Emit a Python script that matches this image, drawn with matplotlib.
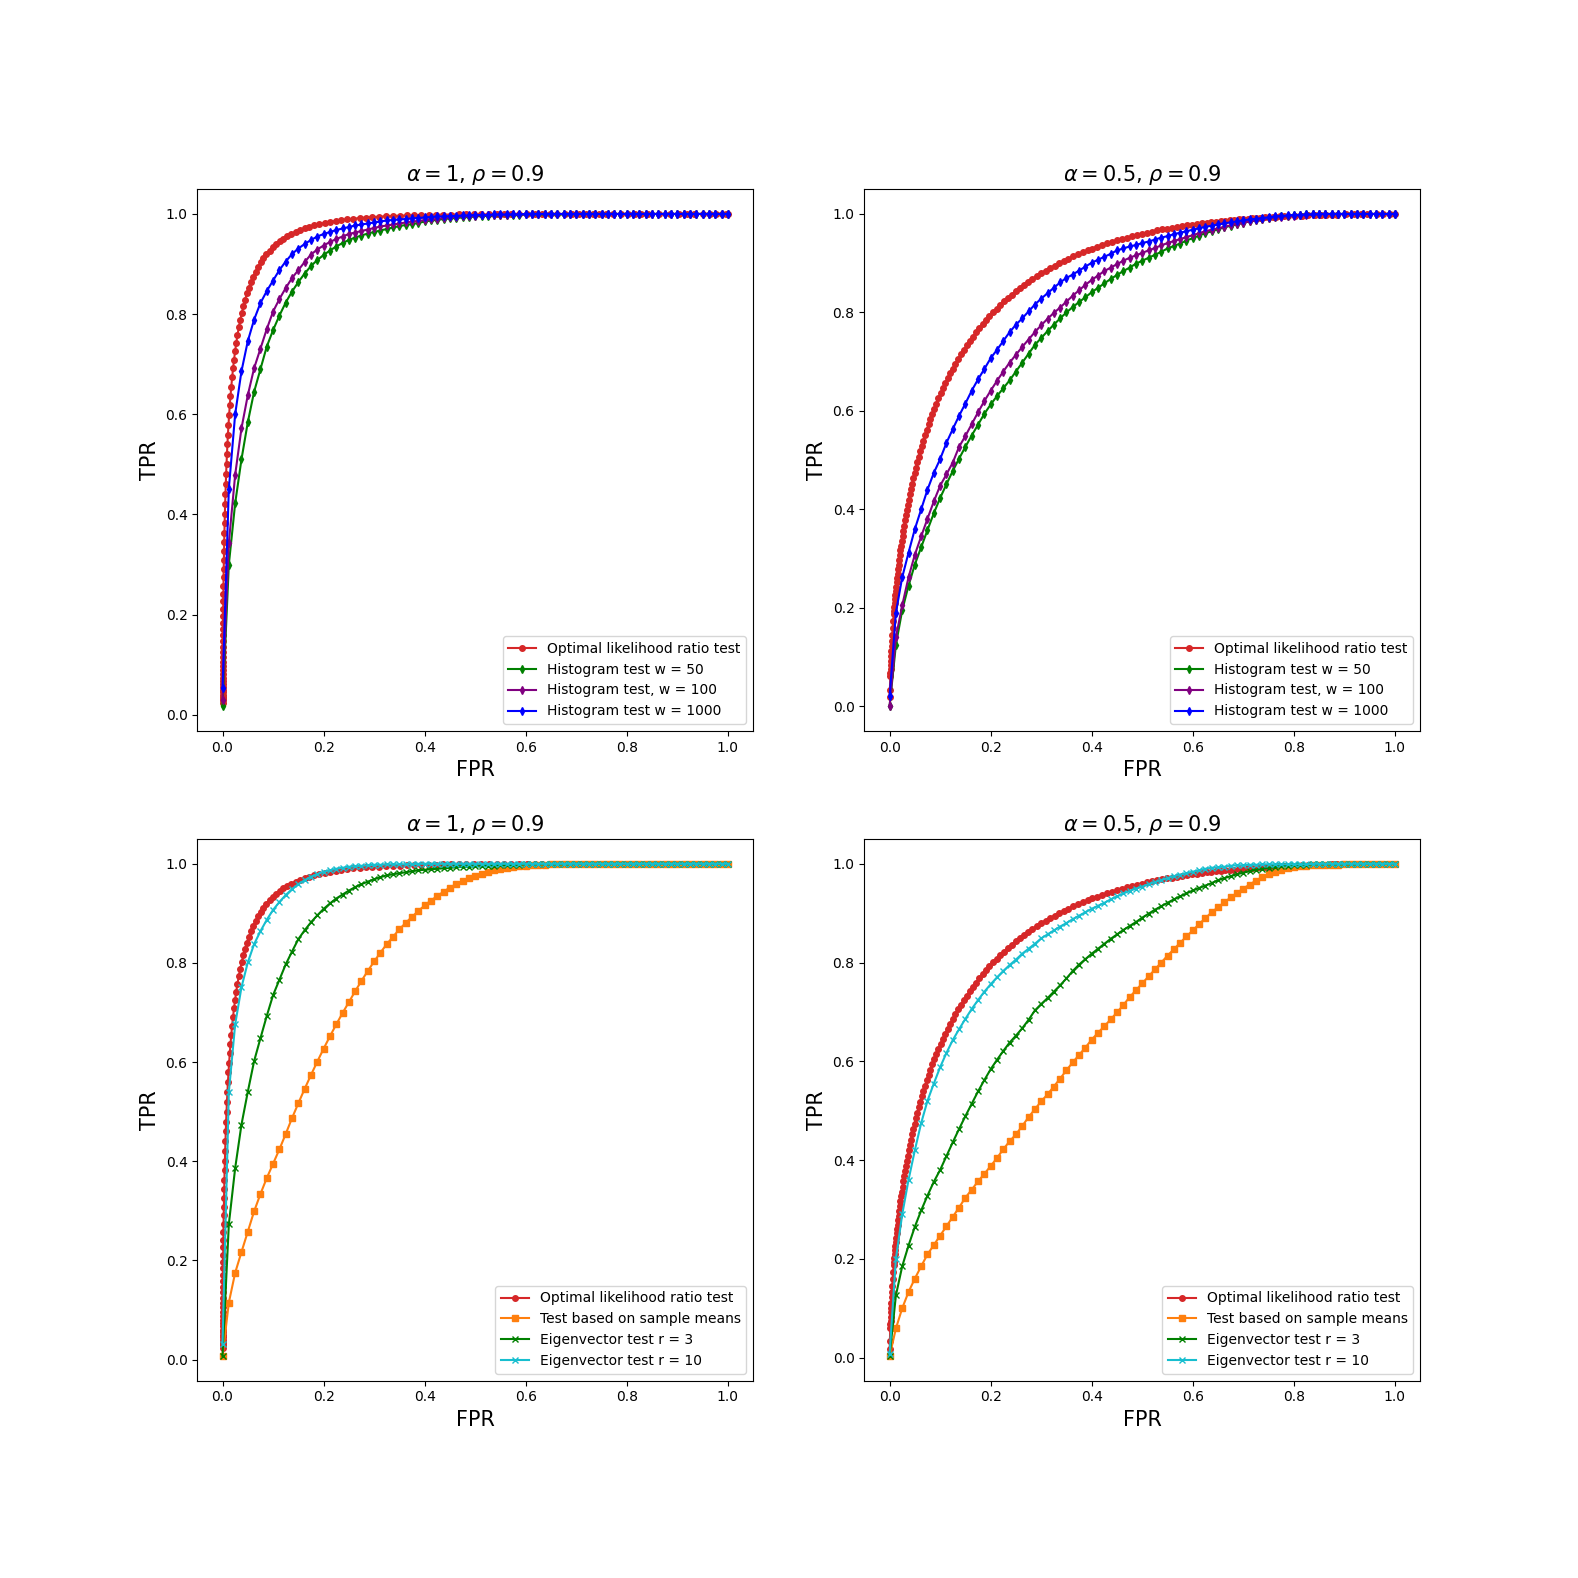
import matplotlib
matplotlib.use("Agg")
import matplotlib.pyplot as plt

# ---------------- data ----------------
FPR_GRID = [
    0.0, 0.0125, 0.025, 0.0375, 0.05, 0.0625, 0.075, 0.0875, 0.1, 0.1125,
    0.125, 0.1375, 0.15, 0.1625, 0.175, 0.1875, 0.2, 0.2125, 0.225, 0.2375,
    0.25, 0.2625, 0.275, 0.2875, 0.3, 0.3125, 0.325, 0.3375, 0.35, 0.3625,
    0.375, 0.3875, 0.4, 0.4125, 0.425, 0.4375, 0.45, 0.4625, 0.475, 0.4875,
    0.5, 0.5125, 0.525, 0.5375, 0.55, 0.5625, 0.575, 0.5875, 0.6, 0.6125,
    0.625, 0.6375, 0.65, 0.6625, 0.675, 0.6875, 0.7, 0.7125, 0.725, 0.7375,
    0.75, 0.7625, 0.775, 0.7875, 0.8, 0.8125, 0.825, 0.8375, 0.85, 0.8625,
    0.875, 0.8875, 0.9, 0.9125, 0.925, 0.9375, 0.95, 0.9625, 0.975, 0.9875,
    1.0]

# Optimal likelihood ratio test, alpha = 1
OPT_A1_FPR = [
    0.00005, 0.000061, 0.000071, 0.000083, 0.000096, 0.000111, 0.000129, 0.000149, 0.000172, 0.000199,
    0.000229, 0.000264, 0.000303, 0.000348, 0.000400, 0.000457, 0.000523, 0.000596, 0.000680, 0.000775,
    0.000880, 0.00100, 0.00113, 0.00128, 0.00146, 0.00164, 0.00185, 0.00208, 0.00235, 0.00264,
    0.00296, 0.00332, 0.00372, 0.00416, 0.00465, 0.00518, 0.00577, 0.00641, 0.00712, 0.00790,
    0.00875, 0.00970, 0.01069, 0.01182, 0.01304, 0.01434, 0.01578, 0.01731, 0.01900, 0.02083,
    0.02275, 0.02488, 0.02712, 0.02958, 0.03223, 0.03500, 0.03806, 0.04120, 0.04466, 0.04836,
    0.05221, 0.05639, 0.06069, 0.06540, 0.07040, 0.07555, 0.08107, 0.08680, 0.09298, 0.09923,
    0.10600, 0.11313, 0.12047, 0.12825, 0.13609, 0.14462, 0.15345, 0.16234, 0.17184, 0.18134,
    0.19168, 0.20221, 0.21275, 0.22394, 0.23522, 0.24704, 0.25912, 0.27128, 0.28404, 0.29667,
    0.30993, 0.32345, 0.33689, 0.35088, 0.36467, 0.37902, 0.39359, 0.40788, 0.42271, 0.43724,
    0.45224, 0.46732, 0.48205, 0.49721, 0.51197, 0.52711, 0.54221, 0.55686, 0.57182, 0.58628,
    0.6026, 0.6179, 0.6331, 0.6480, 0.6628, 0.6772, 0.6915, 0.7054, 0.7190, 0.7324,
    0.7454, 0.7580, 0.7734, 0.7881, 0.8023, 0.8159, 0.8289, 0.8413, 0.8643, 0.8849,
    0.9032, 0.9192, 0.9332, 0.9505, 0.9641, 0.9772, 0.9893, 0.9965, 1.0]
OPT_A1_TPR = [
    0.0228, 0.0287, 0.0322, 0.0359, 0.0401, 0.0446, 0.0495, 0.0548, 0.0606, 0.0668,
    0.0735, 0.0808, 0.0885, 0.0968, 0.1057, 0.1151, 0.1251, 0.1357, 0.1469, 0.1587,
    0.1711, 0.1841, 0.1977, 0.2119, 0.2266, 0.2420, 0.2579, 0.2743, 0.2912, 0.3085,
    0.3264, 0.3446, 0.3632, 0.3821, 0.4013, 0.4207, 0.4404, 0.4602, 0.4801, 0.5000,
    0.5199, 0.5398, 0.5596, 0.5793, 0.5987, 0.6179, 0.6368, 0.6554, 0.6736, 0.6915,
    0.7088, 0.7257, 0.7422, 0.7580, 0.7734, 0.7881, 0.8023, 0.8159, 0.8289, 0.8413,
    0.8531, 0.8643, 0.8749, 0.8849, 0.8944, 0.9032, 0.9115, 0.9192, 0.9265, 0.9332,
    0.9394, 0.9452, 0.9505, 0.9554, 0.9599, 0.9641, 0.9678, 0.9713, 0.9744, 0.9773,
    0.9798, 0.9821, 0.9842, 0.9861, 0.9878, 0.9893, 0.9906, 0.9918, 0.9929, 0.9938,
    0.9946, 0.9953, 0.9960, 0.9965, 0.9970, 0.9974, 0.9978, 0.9981, 0.9984, 0.9987,
    0.9989, 0.9990, 0.9992, 0.9993, 0.9994, 0.9995, 0.9996, 0.9997, 0.9997, 0.9998,
    0.9998, 0.9998, 0.9998, 0.9998, 0.9999, 0.9999, 0.9999, 0.9999, 0.9999, 0.9999,
    0.9999, 0.9999, 1.0, 1.0, 1.0, 1.0, 1.0, 1.0, 1.0, 1.0,
    1.0, 1.0, 1.0, 1.0, 1.0, 1.0, 1.0, 1.0, 1.0]

# Optimal likelihood ratio test, alpha = 0.5
OPT_A05_FPR = [
    0.00023, 0.00058, 0.00135, 0.00159, 0.00187, 0.00219, 0.00256, 0.00298, 0.00347, 0.00402,
    0.00466, 0.00539, 0.00621, 0.00714, 0.00820, 0.00880, 0.00939, 0.01006, 0.01072, 0.01147,
    0.01222, 0.01306, 0.01390, 0.01484, 0.01578, 0.01682, 0.01786, 0.01902, 0.02018, 0.02147,
    0.02275, 0.02417, 0.02559, 0.02716, 0.02872, 0.03044, 0.03216, 0.03405, 0.03593, 0.03800,
    0.04006, 0.04232, 0.04457, 0.04702, 0.04947, 0.05214, 0.05480, 0.05769, 0.06057, 0.06369,
    0.06681, 0.07017, 0.07353, 0.07715, 0.08076, 0.08464, 0.08851, 0.09266, 0.09680, 0.10123,
    0.10565, 0.11036, 0.11507, 0.12007, 0.12507, 0.13037, 0.13567, 0.14127, 0.14686, 0.15276,
    0.15866, 0.16486, 0.17106, 0.17756, 0.18406, 0.19086, 0.19766, 0.20476, 0.21186, 0.21925,
    0.22663, 0.23430, 0.24196, 0.24991, 0.25785, 0.26605, 0.27425, 0.28271, 0.29116, 0.29985,
    0.30854, 0.31745, 0.32636, 0.33547, 0.34458, 0.35388, 0.36317, 0.37263, 0.38209, 0.39169,
    0.40129, 0.41102, 0.42074, 0.43056, 0.44038, 0.45028, 0.46017, 0.47012, 0.48006, 0.49003,
    0.50000, 0.50997, 0.51994, 0.52988, 0.53983, 0.54972, 0.55962, 0.56944, 0.57926, 0.58896,
    0.59871, 0.60830, 0.61791, 0.62737, 0.63683, 0.64612, 0.65542, 0.66453, 0.67364, 0.68250,
    0.69146, 0.70010, 0.70884, 0.71725, 0.72575, 0.73390, 0.74215, 0.75005, 0.75804, 0.76564,
    0.77337, 0.78072, 0.78814, 0.80234, 0.81594, 0.82894, 0.84134, 0.85314, 0.86433, 0.87493,
    0.88493, 0.9032, 0.9192, 0.9332, 0.9452, 0.9641, 0.9772, 0.9893, 1.0]
OPT_A05_TPR = [
    0.0179, 0.0340, 0.0606, 0.0675, 0.0750, 0.0831, 0.0918, 0.1012, 0.1113, 0.1221,
    0.1335, 0.1457, 0.1587, 0.1724, 0.1868, 0.1943, 0.2019, 0.2097, 0.2178, 0.2259,
    0.2343, 0.2428, 0.2515, 0.2603, 0.2693, 0.2785, 0.2878, 0.2972, 0.3068, 0.3166,
    0.3264, 0.3364, 0.3464, 0.3567, 0.3670, 0.3774, 0.3878, 0.3984, 0.4091, 0.4198,
    0.4306, 0.4414, 0.4523, 0.4632, 0.4741, 0.4850, 0.4960, 0.5070, 0.5179, 0.5289,
    0.5398, 0.5507, 0.5616, 0.5724, 0.5832, 0.5939, 0.6045, 0.6150, 0.6255, 0.6359,
    0.6461, 0.6563, 0.6664, 0.6763, 0.6861, 0.6958, 0.7054, 0.7148, 0.7241, 0.7331,
    0.7422, 0.7509, 0.7596, 0.7682, 0.7763, 0.7845, 0.7924, 0.8002, 0.8078, 0.8153,
    0.8224, 0.8296, 0.8364, 0.8431, 0.8496, 0.8559, 0.8621, 0.8680, 0.8739, 0.8794,
    0.8849, 0.8901, 0.8952, 0.9001, 0.9049, 0.9094, 0.9138, 0.9181, 0.9221, 0.9261,
    0.9298, 0.9335, 0.9369, 0.9403, 0.9435, 0.9465, 0.9495, 0.9522, 0.9549, 0.9575,
    0.9599, 0.9622, 0.9644, 0.9665, 0.9685, 0.9704, 0.9722, 0.9739, 0.9756, 0.9771,
    0.9785, 0.9799, 0.9812, 0.9825, 0.9836, 0.9847, 0.9857, 0.9867, 0.9876, 0.9885,
    0.9893, 0.9900, 0.9907, 0.9914, 0.9920, 0.9926, 0.9931, 0.9937, 0.9941, 0.9946,
    0.9950, 0.9954, 0.9957, 0.9964, 0.9969, 0.9974, 0.9978, 0.9982, 0.9985, 0.9987,
    0.9989, 0.9993, 0.9995, 0.9997, 0.9998, 0.9999, 1.0, 1.0, 1.0]

# Top-left (alpha = 1): histogram tests
HIST_A1_W50 = [
    0.017, 0.300, 0.422, 0.510, 0.584, 0.645, 0.690, 0.735, 0.768, 0.797,
    0.823, 0.845, 0.864, 0.881, 0.896, 0.908, 0.918, 0.927, 0.935, 0.942,
    0.948, 0.953, 0.957, 0.961, 0.964, 0.967, 0.970, 0.973, 0.976, 0.978,
    0.980, 0.982, 0.985, 0.987, 0.988, 0.990, 0.991, 0.992, 0.993, 0.994,
    0.995, 0.996, 0.996, 0.997, 0.997, 0.998, 0.998, 0.998, 0.999, 0.999,
    0.999, 0.999, 0.999, 0.999, 0.999, 0.999, 1.0, 1.0, 1.0, 1.0,
    1.0, 1.0, 1.0, 1.0, 1.0, 1.0, 1.0, 1.0, 1.0, 1.0,
    1.0, 1.0, 1.0, 1.0, 1.0, 1.0, 1.0, 1.0, 1.0, 1.0,
    1.0]
HIST_A1_W100 = [
    0.030, 0.343, 0.479, 0.572, 0.638, 0.692, 0.731, 0.770, 0.805, 0.830,
    0.852, 0.872, 0.888, 0.904, 0.919, 0.929, 0.937, 0.944, 0.950, 0.955,
    0.960, 0.963, 0.966, 0.969, 0.972, 0.975, 0.977, 0.979, 0.981, 0.983,
    0.985, 0.986, 0.988, 0.989, 0.990, 0.992, 0.993, 0.994, 0.995, 0.995,
    0.996, 0.997, 0.997, 0.998, 0.998, 0.998, 0.999, 0.999, 0.999, 0.999,
    1.0, 1.0, 1.0, 1.0, 1.0, 1.0, 1.0, 1.0, 1.0, 1.0,
    1.0, 1.0, 1.0, 1.0, 1.0, 1.0, 1.0, 1.0, 1.0, 1.0,
    1.0, 1.0, 1.0, 1.0, 1.0, 1.0, 1.0, 1.0, 1.0, 1.0,
    1.0]
HIST_A1_W1000 = [
    0.053, 0.451, 0.600, 0.686, 0.746, 0.789, 0.822, 0.846, 0.867, 0.888,
    0.905, 0.920, 0.931, 0.940, 0.948, 0.955, 0.960, 0.964, 0.968, 0.971,
    0.974, 0.977, 0.979, 0.981, 0.983, 0.985, 0.987, 0.988, 0.989, 0.990,
    0.991, 0.992, 0.993, 0.994, 0.995, 0.995, 0.996, 0.996, 0.997, 0.997,
    0.998, 0.998, 0.998, 0.999, 0.999, 0.999, 0.999, 0.999, 1.0, 1.0,
    1.0, 1.0, 1.0, 1.0, 1.0, 1.0, 1.0, 1.0, 1.0, 1.0,
    1.0, 1.0, 1.0, 1.0, 1.0, 1.0, 1.0, 1.0, 1.0, 1.0,
    1.0, 1.0, 1.0, 1.0, 1.0, 1.0, 1.0, 1.0, 1.0, 1.0,
    1.0]

# Top-right (alpha = 0.5): histogram tests
HIST_A05_W50 = [
    0.000, 0.125, 0.195, 0.245, 0.288, 0.323, 0.358, 0.392, 0.423, 0.451,
    0.478, 0.503, 0.527, 0.550, 0.572, 0.594, 0.613, 0.630, 0.646, 0.662,
    0.680, 0.698, 0.716, 0.734, 0.748, 0.762, 0.775, 0.788, 0.800, 0.811,
    0.821, 0.831, 0.841, 0.850, 0.859, 0.868, 0.876, 0.884, 0.891, 0.899,
    0.905, 0.911, 0.917, 0.923, 0.930, 0.935, 0.940, 0.946, 0.951, 0.956,
    0.961, 0.965, 0.969, 0.973, 0.976, 0.979, 0.982, 0.985, 0.987, 0.989,
    0.991, 0.993, 0.995, 0.996, 0.997, 0.998, 0.999, 0.999, 1.0, 1.0,
    1.0, 1.0, 1.0, 1.0, 1.0, 1.0, 1.0, 1.0, 1.0, 1.0,
    1.0]
HIST_A05_W100 = [
    0.000, 0.140, 0.205, 0.262, 0.308, 0.345, 0.381, 0.416, 0.448, 0.471,
    0.495, 0.527, 0.549, 0.573, 0.597, 0.620, 0.641, 0.661, 0.680, 0.698,
    0.714, 0.730, 0.745, 0.760, 0.774, 0.787, 0.799, 0.810, 0.822, 0.834,
    0.845, 0.856, 0.866, 0.875, 0.884, 0.891, 0.898, 0.905, 0.911, 0.916,
    0.921, 0.926, 0.931, 0.936, 0.941, 0.945, 0.949, 0.953, 0.957, 0.961,
    0.965, 0.968, 0.971, 0.974, 0.977, 0.980, 0.982, 0.985, 0.987, 0.989,
    0.991, 0.993, 0.994, 0.995, 0.996, 0.997, 0.998, 0.999, 0.999, 1.0,
    1.0, 1.0, 1.0, 1.0, 1.0, 1.0, 1.0, 1.0, 1.0, 1.0,
    1.0]
HIST_A05_W1000 = [
    0.020, 0.190, 0.262, 0.312, 0.360, 0.400, 0.440, 0.474, 0.502, 0.535,
    0.563, 0.590, 0.615, 0.641, 0.664, 0.685, 0.707, 0.724, 0.742, 0.760,
    0.775, 0.788, 0.802, 0.816, 0.828, 0.839, 0.850, 0.861, 0.870, 0.877,
    0.885, 0.893, 0.901, 0.907, 0.913, 0.919, 0.926, 0.930, 0.934, 0.937,
    0.941, 0.944, 0.948, 0.952, 0.955, 0.959, 0.962, 0.965, 0.968, 0.971,
    0.974, 0.976, 0.979, 0.981, 0.983, 0.985, 0.987, 0.989, 0.990, 0.992,
    0.993, 0.995, 0.996, 0.997, 0.998, 0.998, 0.999, 0.999, 1.0, 1.0,
    1.0, 1.0, 1.0, 1.0, 1.0, 1.0, 1.0, 1.0, 1.0, 1.0,
    1.0]

# Bottom-left (alpha = 1): sample means and eigenvector tests
MEANS_A1 = [
    0.007, 0.115, 0.175, 0.217, 0.258, 0.299, 0.334, 0.366, 0.395, 0.424,
    0.455, 0.487, 0.517, 0.546, 0.574, 0.601, 0.627, 0.652, 0.676, 0.699,
    0.721, 0.743, 0.764, 0.784, 0.803, 0.821, 0.838, 0.853, 0.868, 0.881,
    0.893, 0.905, 0.916, 0.926, 0.935, 0.944, 0.952, 0.959, 0.965, 0.971,
    0.976, 0.980, 0.984, 0.987, 0.990, 0.992, 0.994, 0.995, 0.996, 0.997,
    0.998, 0.998, 0.999, 0.999, 0.999, 0.999, 0.999, 1.0, 1.0, 1.0,
    1.0, 1.0, 1.0, 1.0, 1.0, 1.0, 1.0, 1.0, 1.0, 1.0,
    1.0, 1.0, 1.0, 1.0, 1.0, 1.0, 1.0, 1.0, 1.0, 1.0,
    1.0]
EIG3_A1 = [
    0.007, 0.273, 0.386, 0.474, 0.540, 0.602, 0.648, 0.693, 0.735, 0.766,
    0.797, 0.823, 0.848, 0.866, 0.882, 0.896, 0.909, 0.920, 0.930, 0.938,
    0.946, 0.953, 0.959, 0.964, 0.969, 0.973, 0.977, 0.979, 0.981, 0.983,
    0.985, 0.987, 0.988, 0.989, 0.990, 0.991, 0.992, 0.993, 0.994, 0.994,
    0.995, 0.995, 0.996, 0.996, 0.997, 0.997, 0.998, 0.998, 0.999, 0.999,
    0.999, 0.999, 0.999, 0.999, 0.999, 0.999, 1.0, 1.0, 1.0, 1.0,
    1.0, 1.0, 1.0, 1.0, 1.0, 1.0, 1.0, 1.0, 1.0, 1.0,
    1.0, 1.0, 1.0, 1.0, 1.0, 1.0, 1.0, 1.0, 1.0, 1.0,
    1.0]
EIG10_A1 = [
    0.031, 0.539, 0.676, 0.751, 0.801, 0.838, 0.864, 0.887, 0.907, 0.923,
    0.937, 0.949, 0.959, 0.967, 0.974, 0.979, 0.984, 0.987, 0.990, 0.992,
    0.994, 0.995, 0.996, 0.997, 0.998, 0.998, 0.999, 0.999, 0.999, 0.999,
    0.999, 1.0, 1.0, 1.0, 1.0, 1.0, 1.0, 1.0, 1.0, 1.0,
    1.0, 1.0, 1.0, 1.0, 1.0, 1.0, 1.0, 1.0, 1.0, 1.0,
    1.0, 1.0, 1.0, 1.0, 1.0, 1.0, 1.0, 1.0, 1.0, 1.0,
    1.0, 1.0, 1.0, 1.0, 1.0, 1.0, 1.0, 1.0, 1.0, 1.0,
    1.0, 1.0, 1.0, 1.0, 1.0, 1.0, 1.0, 1.0, 1.0, 1.0,
    1.0]

# Bottom-right (alpha = 0.5): sample means and eigenvector tests
MEANS_A05 = [
    0.003, 0.059, 0.100, 0.133, 0.160, 0.185, 0.209, 0.228, 0.247, 0.266,
    0.285, 0.304, 0.324, 0.340, 0.357, 0.372, 0.388, 0.404, 0.422, 0.438,
    0.452, 0.469, 0.487, 0.503, 0.519, 0.533, 0.549, 0.565, 0.582, 0.598,
    0.613, 0.628, 0.644, 0.658, 0.671, 0.685, 0.699, 0.714, 0.730, 0.744,
    0.758, 0.772, 0.786, 0.800, 0.814, 0.827, 0.840, 0.853, 0.865, 0.878,
    0.890, 0.902, 0.912, 0.922, 0.932, 0.941, 0.950, 0.958, 0.966, 0.973,
    0.979, 0.984, 0.988, 0.991, 0.994, 0.995, 0.996, 0.997, 0.997, 0.998,
    0.998, 0.998, 0.999, 0.999, 0.999, 0.999, 0.999, 0.999, 1.0, 1.0,
    1.0]
EIG3_A05 = [
    0.003, 0.126, 0.185, 0.227, 0.265, 0.298, 0.328, 0.356, 0.380, 0.408,
    0.436, 0.463, 0.489, 0.514, 0.539, 0.562, 0.584, 0.603, 0.621, 0.638,
    0.652, 0.667, 0.684, 0.703, 0.716, 0.728, 0.741, 0.754, 0.768, 0.783,
    0.796, 0.807, 0.818, 0.828, 0.838, 0.848, 0.857, 0.866, 0.874, 0.882,
    0.891, 0.899, 0.907, 0.914, 0.921, 0.928, 0.934, 0.940, 0.946, 0.951,
    0.956, 0.961, 0.967, 0.971, 0.975, 0.979, 0.982, 0.985, 0.988, 0.990,
    0.992, 0.993, 0.995, 0.996, 0.997, 0.998, 0.998, 0.999, 0.999, 0.999,
    0.999, 0.999, 0.999, 0.999, 0.999, 1.0, 1.0, 1.0, 1.0, 1.0,
    1.0]
EIG10_A05 = [
    0.007, 0.200, 0.290, 0.360, 0.420, 0.475, 0.520, 0.555, 0.588, 0.617,
    0.643, 0.665, 0.686, 0.706, 0.724, 0.741, 0.756, 0.770, 0.783, 0.795,
    0.806, 0.818, 0.828, 0.838, 0.849, 0.857, 0.865, 0.873, 0.880, 0.888,
    0.895, 0.902, 0.909, 0.915, 0.921, 0.928, 0.934, 0.940, 0.945, 0.950,
    0.954, 0.959, 0.963, 0.967, 0.971, 0.975, 0.978, 0.981, 0.984, 0.987,
    0.990, 0.992, 0.993, 0.994, 0.996, 0.997, 0.997, 0.998, 0.998, 0.999,
    0.999, 0.999, 0.999, 0.999, 0.999, 0.999, 0.999, 1.0, 1.0, 1.0,
    1.0, 1.0, 1.0, 1.0, 1.0, 1.0, 1.0, 1.0, 1.0, 1.0,
    1.0]

TITLES = [r"$\alpha = 1$, $\rho = 0.9$", r"$\alpha = 0.5$, $\rho = 0.9$",
          r"$\alpha = 1$, $\rho = 0.9$", r"$\alpha = 0.5$, $\rho = 0.9$"]
OPT_LABEL = "Optimal likelihood ratio test"
HIST_LABELS = ["Histogram test w = 50", "Histogram test, w = 100", "Histogram test w = 1000"]
BOTTOM_LABELS = ["Test based on sample means", "Eigenvector test r = 3", "Eigenvector test r = 10"]

# ---------------- plot ----------------
fig, axes = plt.subplots(2, 2, figsize=(15.78, 15.78), dpi=100)
fig.subplots_adjust(left=0.125, right=0.9, top=0.88, bottom=0.125,
                    wspace=0.2, hspace=0.2)

panels = [
    (axes[0, 0], TITLES[0], (OPT_A1_FPR, OPT_A1_TPR),
     [(HIST_A1_W50, "green", "d", 4, HIST_LABELS[0]),
      (HIST_A1_W100, "purple", "d", 4, HIST_LABELS[1]),
      (HIST_A1_W1000, "blue", "d", 4, HIST_LABELS[2])]),
    (axes[0, 1], TITLES[1], (OPT_A05_FPR, OPT_A05_TPR),
     [(HIST_A05_W50, "green", "d", 4, HIST_LABELS[0]),
      (HIST_A05_W100, "purple", "d", 4, HIST_LABELS[1]),
      (HIST_A05_W1000, "blue", "d", 4, HIST_LABELS[2])]),
    (axes[1, 0], TITLES[2], (OPT_A1_FPR, OPT_A1_TPR),
     [(MEANS_A1, "tab:orange", "s", 4, BOTTOM_LABELS[0]),
      (EIG3_A1, "green", "x", 4, BOTTOM_LABELS[1]),
      (EIG10_A1, "tab:cyan", "x", 4, BOTTOM_LABELS[2])]),
    (axes[1, 1], TITLES[3], (OPT_A05_FPR, OPT_A05_TPR),
     [(MEANS_A05, "tab:orange", "s", 4, BOTTOM_LABELS[0]),
      (EIG3_A05, "green", "x", 4, BOTTOM_LABELS[1]),
      (EIG10_A05, "tab:cyan", "x", 4, BOTTOM_LABELS[2])]),
]

for ax, title, (of, ot), series in panels:
    ax.plot(of, ot, color="tab:red", marker=".", markersize=8, linewidth=1.5,
            label=OPT_LABEL)
    for tpr, color, marker, ms, label in series:
        ax.plot(FPR_GRID, tpr, color=color, marker=marker, markersize=ms,
                linewidth=1.5, label=label)
    ax.set_title(title, fontsize=15)
    ax.set_xlabel("FPR", fontsize=15)
    ax.set_ylabel("TPR", fontsize=15)
    ax.legend(loc="lower right", fontsize=10)

fig.savefig("out.png", dpi=100)
